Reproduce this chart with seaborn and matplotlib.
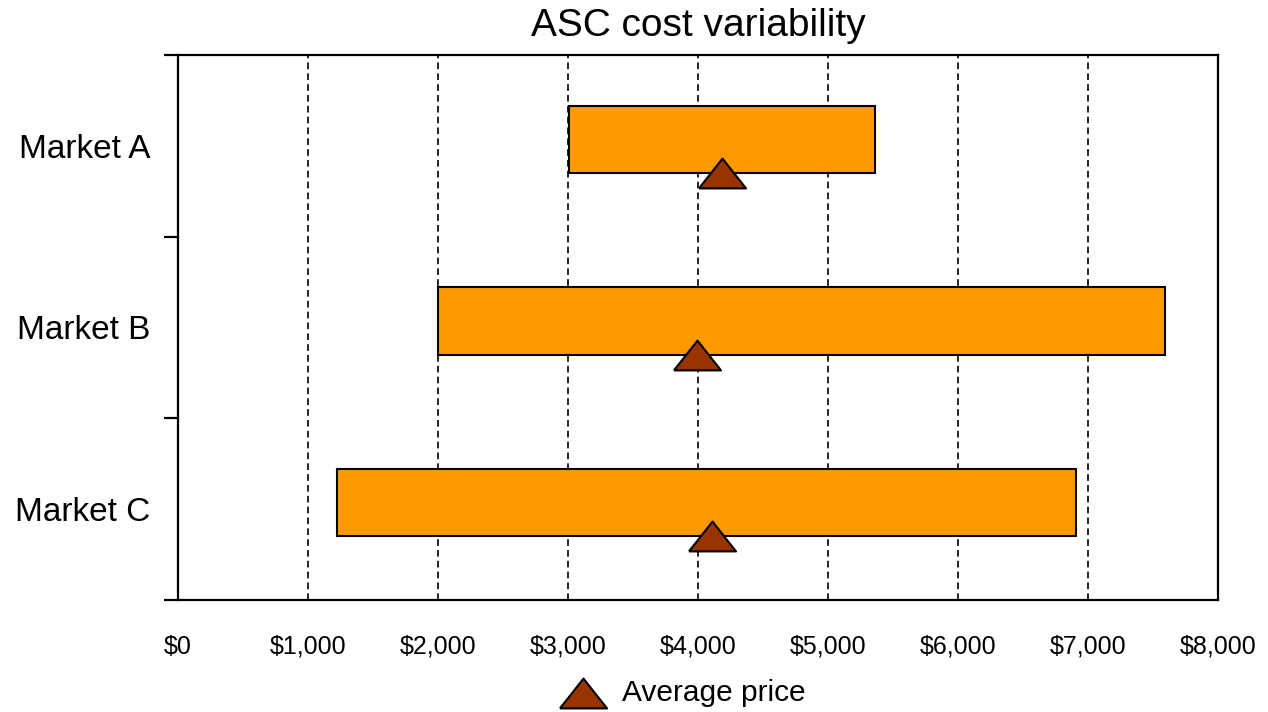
import numpy as np
import pandas as pd
import matplotlib.pyplot as plt
import seaborn as sns

# values
markets = ['Market A', 'Market B', 'Market C']
low_cost = [3010, 2000, 1225]
high_cost = [5360, 7590, 6905]
avg_price = [4185, 3990, 4110]
x_ticks = [0, 1000, 2000, 3000, 4000, 5000, 6000, 7000, 8000]

sns.set_style('white')
plt.rcParams['font.family'] = ['Liberation Sans', 'DejaVu Sans']
plt.rcParams['text.color'] = 'black'
plt.rcParams['xtick.color'] = 'black'
plt.rcParams['ytick.color'] = 'black'

pos = np.arange(len(markets))
bar_h = 0.37
shift = 0.036  # bars sit a little above the band centre

df = pd.DataFrame({'market': markets, 'pos': pos, 'low': low_cost,
                   'high': high_cost, 'avg': avg_price})
df['span'] = df['high'] - df['low']
df['tri_y'] = df['pos'] + bar_h / 2

fig, ax = plt.subplots(figsize=(12.68, 7.12), dpi=100)
fig.subplots_adjust(left=0.1404, right=0.9606, top=0.9228, bottom=0.1573)

# floating range bars
sns.barplot(data=df, x='span', y='pos', orient='y', native_scale=True,
            width=bar_h, left=df['low'].values, color='#ff9900',
            edgecolor='black', linewidth=1.5, errorbar=None, saturation=1,
            ax=ax, zorder=2)

# average price triangles (wide, closed path)
tri = [(-1, -0.633), (1, -0.633), (0, 0.633), (-1, -0.633)]
sns.scatterplot(data=df, x='avg', y='tri_y', marker=tri, s=1150,
                color='#993300', edgecolor='black', linewidth=1.5,
                zorder=3, ax=ax, label='Average price')
if ax.get_legend() is not None:
    ax.get_legend().remove()

ax.set_xlim(0, 8000)
ax.set_xticks(x_ticks, [f'${v:,}' for v in x_ticks])
ax.tick_params(axis='x', length=0, pad=25, labelsize=18, labelcolor='black')

ax.set_ylim(2.5 + shift, -0.5 + shift)
ax.set_yticks(pos + shift, markets)
ax.set_yticks(np.arange(-0.5, 3, 1) + shift, minor=True)
ax.tick_params(axis='y', which='major', length=0, pad=20, labelsize=24,
               labelcolor='black')
ax.tick_params(axis='y', which='minor', left=True, length=10, width=1.6,
               color='black', direction='out')

ax.xaxis.grid(True, linestyle=(0, (4, 2.5)), color='black', linewidth=1.2)
ax.yaxis.grid(False)
ax.set_axisbelow(True)
for sp in ax.spines.values():
    sp.set_visible(True)
    sp.set_color('black')
    sp.set_linewidth(1.6)

ax.set_xlabel('')
ax.set_ylabel('')
ax.set_title('ASC cost variability', fontsize=28, pad=14, color='black')

handles, labels = ax.get_legend_handles_labels()
keep = [i for i, l in enumerate(labels) if l == 'Average price']
fig.legend([handles[i] for i in keep], [labels[i] for i in keep],
           loc='center', bbox_to_anchor=(0.536, 0.027), frameon=False,
           fontsize=21.5, handletextpad=0.3)

fig.savefig('out.png', dpi=100)
